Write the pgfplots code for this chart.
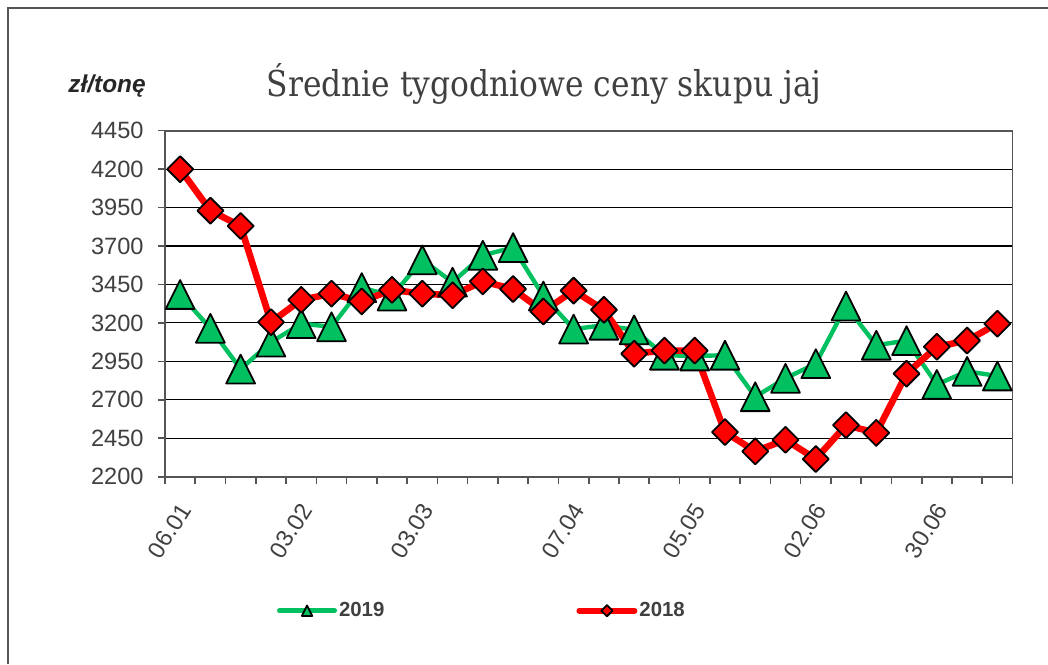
\documentclass[border=0pt]{standalone}
\usepackage{fontspec}
\setmainfont{Liberation Sans}
\newfontfamily\titlefont[FakeStretch=0.88]{DejaVu Serif}
\usepackage{pgfplots}
\pgfplotsset{compat=1.18}
\definecolor{grn}{RGB}{0,192,96}
\definecolor{axg}{RGB}{85,85,85}
\definecolor{txt}{RGB}{64,64,64}
\pgfdeclareplotmark{etri}{%
  \pgfpathmoveto{\pgfqpoint{0pt}{\pgfplotmarksize}}%
  \pgfpathlineto{\pgfqpoint{\pgfplotmarksize}{-\pgfplotmarksize}}%
  \pgfpathlineto{\pgfqpoint{-\pgfplotmarksize}{-\pgfplotmarksize}}%
  \pgfpathclose\pgfusepathqfillstroke}
\pgfdeclareplotmark{ediam}{%
  \pgfpathmoveto{\pgfqpoint{0pt}{\pgfplotmarksize}}%
  \pgfpathlineto{\pgfqpoint{\pgfplotmarksize}{0pt}}%
  \pgfpathlineto{\pgfqpoint{0pt}{-\pgfplotmarksize}}%
  \pgfpathlineto{\pgfqpoint{-\pgfplotmarksize}{0pt}}%
  \pgfpathclose\pgfusepathqfillstroke}
\pgfplotstableread{
x y
0 3385
1 3165
2 2900
3 3075
4 3195
5 3175
6 3430
7 3375
8 3610
9 3465
10 3640
11 3690
12 3375
13 3160
14 3185
15 3155
16 2990
17 2985
18 2990
19 2720
20 2840
21 2935
22 3310
23 3055
24 3085
25 2800
26 2885
27 2855
}\dataA
\pgfplotstableread{
x y
0 4200
1 3930
2 3830
3 3205
4 3350
5 3390
6 3340
7 3415
8 3390
9 3380
10 3470
11 3420
12 3275
13 3410
14 3285
15 3000
16 3020
17 3020
18 2490
19 2365
20 2440
21 2315
22 2535
23 2485
24 2870
25 3045
26 3085
27 3195
}\dataB
\begin{document}
\begin{tikzpicture}
\path[use as bounding box] (0,0) rectangle (524pt,332pt);
\draw[axg, line width=1pt] (4pt,0) -- (4pt,328pt) -- (524pt,328pt);
\node[anchor=base, font=\titlefont\fontsize{17.8}{21}\selectfont, text=txt, inner sep=0pt] at (272pt,283.65pt) {Średnie tygodniowe ceny skupu jaj};
\node[anchor=base west, font=\bfseries\itshape\fontsize{12.2}{14}\selectfont, text=black!85, inner sep=0pt] at (34pt,285.5pt) {zł/tonę};
\begin{axis}[
  at={(82.5pt,93.65pt)}, anchor=south west, scale only axis,
  width=423.75pt, height=173pt,
  xmin=-0.5, xmax=27.5, ymin=2200, ymax=4450,
  ytick={2200,2450,...,4450},
  xtick={0,4,8,13,17,21,25},
  xticklabels={06.01,03.02,03.03,07.04,05.05,02.06,30.06},
  minor xtick={-0.5,0.5,...,27.5},
  scaled y ticks=false,
  /pgf/number format/1000 sep={},
  /pgf/number format/assume math mode=true,
  tick align=outside, tick pos=left,
  major tick length=3.5pt, minor tick length=3.8pt,
  major x tick style={draw=none},
  tick style={draw=axg, line width=0.8pt},
  ymajorgrids, grid style={black, line width=0.55pt},
  axis line style={draw=axg, line width=0.9pt},
  ticklabel style={font=\fontsize{11.8}{13}\selectfont, text=txt},
  yticklabel style={anchor=east, inner sep=0pt, xshift=-7pt},
  xticklabel style={xshift=-1pt, yshift=-8.5pt, rotate=58, anchor=north east, inner sep=0pt},
  legend style={at={(0.1322,-0.3873)}, anchor=west, draw=none, fill=none,
    inner sep=0pt, outer sep=0pt, legend columns=2,
    font=\bfseries\fontsize{10.2}{12}\selectfont, text=txt,
    /tikz/every even column/.append style={column sep=95pt},
    nodes={inner sep=1pt}},
  clip=false,
]
\addplot[grn, line width=2.2pt, line join=round, mark=etri, mark size=7.2pt,
  mark options={fill=grn, draw=black, line width=0.9pt},
  legend image code/.code={
    \draw[grn, line width=2.5pt, line cap=round] (0pt,0pt) -- (27.5pt,0pt);
    \draw[black, fill=grn, line width=0.6pt, mark=etri, mark size=2.6pt] plot coordinates {(13.75pt,0pt)};}
] table[x=x,y=y] {\dataA};
\addlegendentry{2019}
\addplot[red, line width=3.3pt, line join=round, mark=ediam, mark size=6.5pt,
  mark options={fill=red, draw=black, line width=0.9pt},
  legend image code/.code={
    \draw[red, line width=3pt, line cap=round] (0pt,0pt) -- (27.5pt,0pt);
    \draw[black, fill=red, line width=0.6pt, mark=ediam, mark size=2.8pt] plot coordinates {(13.75pt,0pt)};}
] table[x=x,y=y] {\dataB};
\addlegendentry{2018}
\end{axis}
\end{tikzpicture}
\end{document}
